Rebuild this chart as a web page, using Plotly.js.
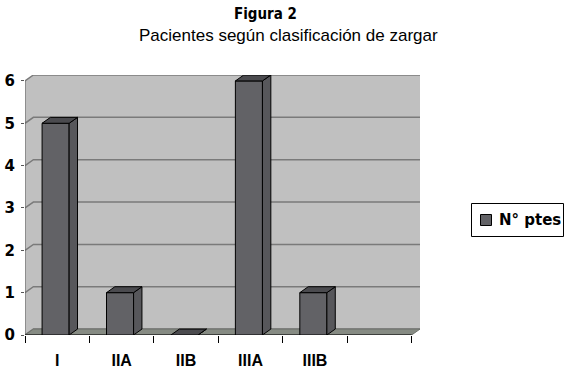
<!DOCTYPE html>
<html>
<head>
<meta charset="utf-8">
<script src="https://cdn.plot.ly/plotly-3.0.1.min.js"></script>
<style>html,body{margin:0;padding:0;background:#fff;}#chart{width:573px;height:372px;}</style>
</head>
<body>
<div id="chart"></div>
<script>
// ---- data ----
const categories = ['I', 'IIA', 'IIB', 'IIIA', 'IIIB', ''];
const values = [5, 1, 0, 6, 1, null];
const yTicks = [0, 1, 2, 3, 4, 5, 6];
const seriesName = 'N° ptes';
const titleMain = 'Figura 2';
const titleSub = 'Pacientes según clasificación de zargar';

// ---- 3D look parameters ----
const dx = 0.13, dy = 0.14;          // depth offset (category units, value units)
const barW = 0.42, barOff = -0.235;  // front face width / offset
const n = categories.length;
const idx = categories.map((c, i) => i);
const xL = -0.5, xR = n - 0.5;
const yMax = yTicks[yTicks.length - 1];

// plot geometry (pixels) for paper-coordinate placement
const W = 573, H = 372, mL = 25, mR = 153, mT = 75, mB = 37;
const pw = W - mL - mR, ph = H - mT - mB;
const px = x => (x - mL) / pw;
const py = y => (H - mB - y) / ph;

function path(pts) {
  return 'M' + pts.map(p => p[0] + ',' + p[1]).join(' L') + ' Z';
}
function line(pts) {
  return 'M' + pts.map(p => p[0] + ',' + p[1]).join(' L');
}

// side and top faces of the bars
const sideX = [], sideY = [], topX = [], topY = [];
values.forEach((v, i) => {
  if (v === null) return;
  const x0 = i + barOff, x1 = x0 + barW;
  sideX.push(x1, x1, x1 + dx, x1 + dx, x1, null);
  sideY.push(0, v, v + dy, dy, 0, null);
  topX.push(x0, x1, x1 + dx, x0 + dx, x0, null);
  topY.push(v, v, v + dy, v + dy, v, null);
});

const barColor = '#626266';
const shapes = [];
// back wall + left side wall
shapes.push({type: 'path', xref: 'x', yref: 'y', layer: 'below',
  path: path([[xL, 0], [xL, yMax], [xL + dx, yMax + dy], [xR + dx, yMax + dy], [xR + dx, dy], [xL + dx, dy]]),
  fillcolor: '#c0c0c0', line: {width: 0}});
// gridlines (on the side wall and back wall)
yTicks.forEach(t => {
  shapes.push({type: 'path', xref: 'x', yref: 'y', layer: 'below',
    path: line([[xL, t], [xL + dx, t + dy], [xR + dx, t + dy]]),
    line: {color: '#7a7a7a', width: 1.5}});
});
// floor
shapes.push({type: 'path', xref: 'x', yref: 'y', layer: 'below',
  path: path([[xL, 0], [xR, 0], [xR + dx, dy], [xL + dx, dy]]),
  fillcolor: '#868b83', line: {color: '#6f726c', width: 1}});
// front axis lines
shapes.push({type: 'line', xref: 'x', yref: 'y', layer: 'below',
  x0: xL, x1: xL, y0: 0, y1: yMax, line: {color: '#5a5a5a', width: 1}});
shapes.push({type: 'line', xref: 'x', yref: 'y', layer: 'below',
  x0: xL, x1: xR, y0: 0, y1: 0, line: {color: '#000', width: 1.2}});
// legend box and key
shapes.push({type: 'rect', xref: 'paper', yref: 'paper', layer: 'above',
  x0: px(471.5), x1: px(563.5), y0: py(236.5), y1: py(203.5),
  fillcolor: 'rgba(0,0,0,0)', line: {color: '#000', width: 1}});
shapes.push({type: 'rect', xref: 'paper', yref: 'paper', layer: 'above',
  x0: px(480.5), x1: px(491.5), y0: py(225.5), y1: py(214.5),
  fillcolor: barColor, line: {color: '#000', width: 1}});

const traces = [
  {type: 'bar', x: idx, y: values, width: barW, offset: barOff, name: seriesName,
   marker: {color: barColor, line: {color: '#000', width: 1}}, showlegend: false},
  {type: 'scatter', x: sideX, y: sideY, mode: 'lines', fill: 'toself',
   fillcolor: '#57575b', line: {color: '#000', width: 1}, showlegend: false, hoverinfo: 'skip'},
  {type: 'scatter', x: topX, y: topY, mode: 'lines', fill: 'toself',
   fillcolor: '#4b4b4f', line: {color: '#000', width: 1}, showlegend: false, hoverinfo: 'skip'}
];

const xFont = {family: 'Liberation Sans, Arial, sans-serif', size: 16, color: '#000', weight: 'bold'};
const yFont = {family: 'DejaVu Sans, sans-serif', size: 15, color: '#000', weight: 'bold'};

const layout = {
  width: W, height: H,
  margin: {l: mL, r: mR, t: mT, b: mB, pad: 0},
  paper_bgcolor: '#fff', plot_bgcolor: '#fff',
  showlegend: false,
  xaxis: {range: [xL, xR + dx], tickvals: idx, ticktext: categories, ticks: '',
    showgrid: false, zeroline: false, showline: false, tickfont: xFont,
    ticklabelstandoff: 14,
    minor: {tickvals: idx.map(i => i - 0.5).concat([xR]), ticks: 'outside', ticklen: 7,
      tickcolor: '#000', tickwidth: 1, showgrid: false}},
  yaxis: {range: [0, yMax + dy], tickvals: yTicks, ticks: 'outside', ticklen: 3,
    tickcolor: '#555', showgrid: false, zeroline: false, showline: false,
    tickfont: yFont, ticklabelstandoff: 3},
  shapes: shapes,
  annotations: [
    {text: titleMain, xref: 'paper', yref: 'paper', x: px(265.5), y: py(14), xanchor: 'center', yanchor: 'middle',
     showarrow: false, font: {family: 'DejaVu Sans Condensed, DejaVu Sans', size: 15, weight: 'bold', color: '#000'}},
    {text: titleSub, xref: 'paper', yref: 'paper', x: px(288.5), y: py(35.5), xanchor: 'center', yanchor: 'middle',
     showarrow: false, font: {family: 'Liberation Sans, Arial, sans-serif', size: 17, color: '#000'}},
    {text: seriesName, xref: 'paper', yref: 'paper', x: px(497), y: py(220), xanchor: 'left', yanchor: 'middle',
     showarrow: false, font: yFont}
  ]
};

Plotly.newPlot('chart', traces, layout, {displayModeBar: false, staticPlot: true});
</script>
</body>
</html>
